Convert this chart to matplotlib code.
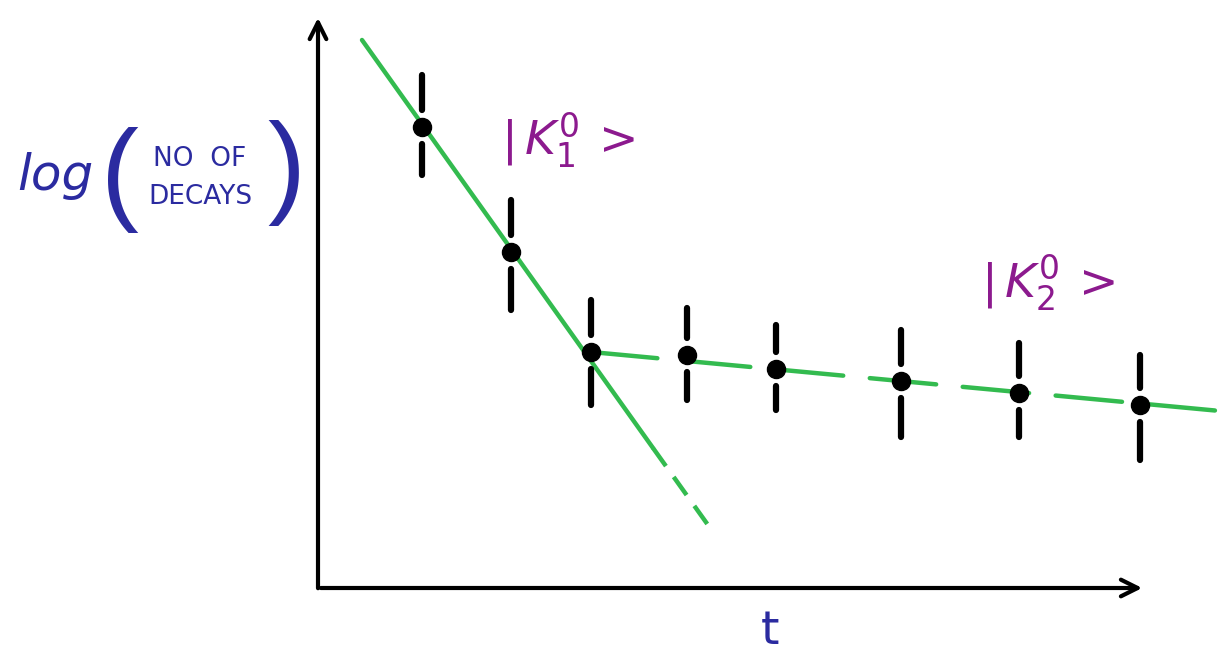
import numpy as np
from matplotlib import pyplot as plt

t_pts = [1.04, 1.93, 2.73, 3.69, 4.58, 5.83, 7.01, 8.22]
logn_pts = [4.61, 3.36, 2.36, 2.33, 2.19, 2.07, 1.95, 1.83]
err_up = [0.52, 0.52, 0.52, 0.47, 0.44, 0.51, 0.50, 0.50]
err_dn = [0.48, 0.58, 0.53, 0.45, 0.41, 0.56, 0.44, 0.55]

# fitted lines for the two components
k1_t = [0.44, 3.35, 3.90]
k1_y = [5.48, 1.40, 0.63]
k2_t = [2.73, 9.13]
k2_y = [2.36, 1.76]

t_max = 8.27
y_max = 5.73

green = "#33bb4f"
ink = "#2b2ba0"
purple = "#8c1a8e"

plt.rcParams["savefig.dpi"] = 100
fig = plt.figure(figsize=(12.31, 6.57))
ax = fig.add_axes([0, 0, 1, 1])
ax.set_xlim(-3.18, 9.13)
ax.set_ylim(-0.69, 5.88)
ax.axis("off")

# axes drawn as arrows
ax.annotate("", xy=(0, y_max), xytext=(0, -0.03),
            arrowprops=dict(arrowstyle="->", lw=3, color="black", mutation_scale=30))
ax.annotate("", xy=(t_max, 0), xytext=(0, 0),
            arrowprops=dict(arrowstyle="->", lw=3, color="black", mutation_scale=30))

# K1 line: solid then dashed at the end
ax.plot(k1_t[:2], k1_y[:2], color=green, lw=3.2, solid_capstyle="round")
ax.plot(k1_t[1:], k1_y[1:], color=green, lw=3.2, dashes=(5, 3))
# K2 line dashed
ax.plot(k2_t, k2_y, color=green, lw=3.2, dashes=(15, 6), dash_capstyle="round")

# error bars with a gap around each dot
gap = 0.17
t_arr = np.array(t_pts)
y_arr = np.array(logn_pts)
ax.vlines(t_arr, y_arr + gap, y_arr + np.array(err_up), color="black", lw=4.5, capstyle="round")
ax.vlines(t_arr, y_arr - np.array(err_dn), y_arr - gap, color="black", lw=4.5, capstyle="round")
ax.plot(t_pts, logn_pts, "o", color="black", ms=13, zorder=5)

# labels
ax.text(-2.63, 4.12, "log", fontsize=36, color=ink, ha="center", va="center", style="italic")
ax.text(-1.98, 4.08, "(", fontsize=82, color=ink, ha="center", va="center",
        family="Liberation Sans")
ax.text(-1.18, 4.1, "NO  OF\nDECAYS", fontsize=19, color=ink, ha="center", va="center",
        linespacing=1.6)
ax.text(-0.32, 4.15, ")", fontsize=82, color=ink, ha="center", va="center",
        family="Liberation Sans")

ax.text(2.5, 4.48, r"$|\,K^{0}_{1}\,>$", fontsize=34, color=purple, ha="center", va="center")
ax.text(7.3, 3.05, r"$|\,K^{0}_{2}\,>$", fontsize=34, color=purple, ha="center", va="center")

ax.text(4.52, -0.44, "t", fontsize=34, color=ink, ha="center", va="center")

plt.savefig("out.png")
